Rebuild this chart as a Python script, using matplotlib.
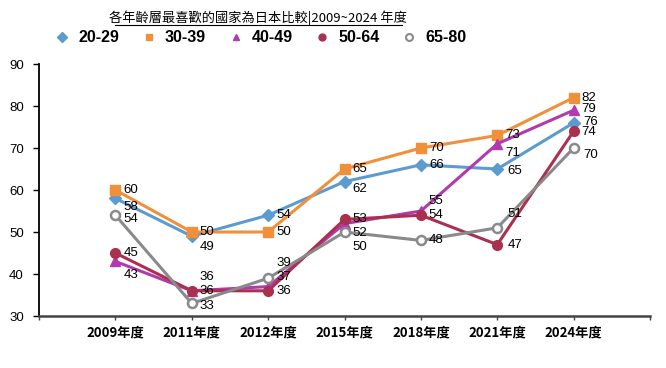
import matplotlib
matplotlib.use('Agg')
import matplotlib.pyplot as plt
from matplotlib.lines import Line2D

plt.rcParams['font.family'] = ['Liberation Sans', 'Noto Sans CJK TC', 'DejaVu Sans']

years = ['2009年度', '2011年度', '2012年度', '2015年度', '2018年度', '2021年度', '2024年度']
age_groups = ['20-29', '30-39', '40-49', '50-64', '65-80']
v_20_29 = [58, 49, 54, 62, 66, 65, 76]
v_30_39 = [60, 50, 50, 65, 70, 73, 82]
v_40_49 = [43, 36, 37, 52, 55, 71, 79]
v_50_64 = [45, 36, 36, 53, 54, 47, 74]
v_65_80 = [54, 33, 39, 50, 48, 51, 70]
series = [v_20_29, v_30_39, v_40_49, v_50_64, v_65_80]

colors = ['#5B9BD0', '#F0903A', '#B03AAE', '#A9304F', '#8A8A8A']
markers = ['D', 's', '^', 'o', 'o']
msizes = [6.5, 7, 7.5, 7, 6.5]

# label offsets in pixels (dx, dy) per series / year
offsets = [
    [(8, -9), (8, -11), (8, 0), (8, -7), (8, 0), (10, -2), (10, 1)],
    [(8, 0), (8, 0), (8, 0), (8, 0), (8, 0), (8, 0), (8, 0)],
    [(8, -14), (8, 14), (8, 10), (8, -9), (8, 10), (8, -9), (8, 1)],
    [(8, 0), (8, 0), (8, 0), (8, 0), (8, 0), (10, 0), (8, -1)],
    [(8, -4), (8, -3), (8, 15), (8, -15), (8, 0), (10, 14), (10, -7)],
]

fig = plt.figure(figsize=(6.66, 3.68), dpi=100)
ax = fig.add_axes([0.0586, 0.1413, 0.9174, 0.6847])

x = list(range(1, len(years) + 1))
for i, vals in enumerate(series):
    mfc = 'white' if i == 4 else colors[i]
    ax.plot(x, vals, color=colors[i], lw=2.2, marker=markers[i], ms=msizes[i],
            mfc=mfc, mec=colors[i], mew=1.8 if i == 4 else 1, zorder=2 + i)
    for j, v in enumerate(vals):
        dx, dy = offsets[i][j]
        ax.annotate(str(v), (x[j], v), xytext=(dx, dy), textcoords='offset pixels',
                    ha='left', va='center', fontsize=9.5, color='black', zorder=10)

ax.set_xlim(0, 8)
ax.set_ylim(30, 90)
ax.set_yticks(range(30, 91, 10))
ax.set_xticks(range(0, 9))
ax.set_xticklabels([''] + years + [''], family=['Noto Sans CJK TC'], fontweight='bold', fontsize=9.5)
ax.tick_params(axis='y', labelsize=9.5, pad=7, length=4, width=1)
ax.tick_params(axis='x', pad=4, length=3, width=1, color='#444444')
ax.spines['top'].set_visible(False)
ax.spines['right'].set_visible(False)
ax.spines['left'].set_color('black')
ax.spines['left'].set_linewidth(1.3)
ax.spines['bottom'].set_color('#444444')
ax.spines['bottom'].set_linewidth(1.8)

fig.text(0.388, 0.953, '各年齡層最喜歡的國家為日本比較|2009~2024 年度', ha='center', va='center',
         fontsize=9.5, family=['Noto Sans CJK TC', 'DejaVu Sans'])
fig.add_artist(Line2D([115 / 666, 402 / 666], [1 - 25 / 368, 1 - 25 / 368], color='black', lw=0.8))

handles = [Line2D([], [], ls='none', marker=markers[i], ms=5, color=colors[i],
                  mfc='white' if i == 4 else colors[i], mew=1.5 if i == 4 else 1)
           for i in range(5)]
fig.legend(handles, age_groups, loc='center', bbox_to_anchor=(0.392, 0.897), ncol=5, frameon=False,
           prop={'weight': 'bold', 'size': 11.5}, handlelength=0.8, handletextpad=0.6, columnspacing=1.45)

fig.savefig('out.png', dpi=100)
